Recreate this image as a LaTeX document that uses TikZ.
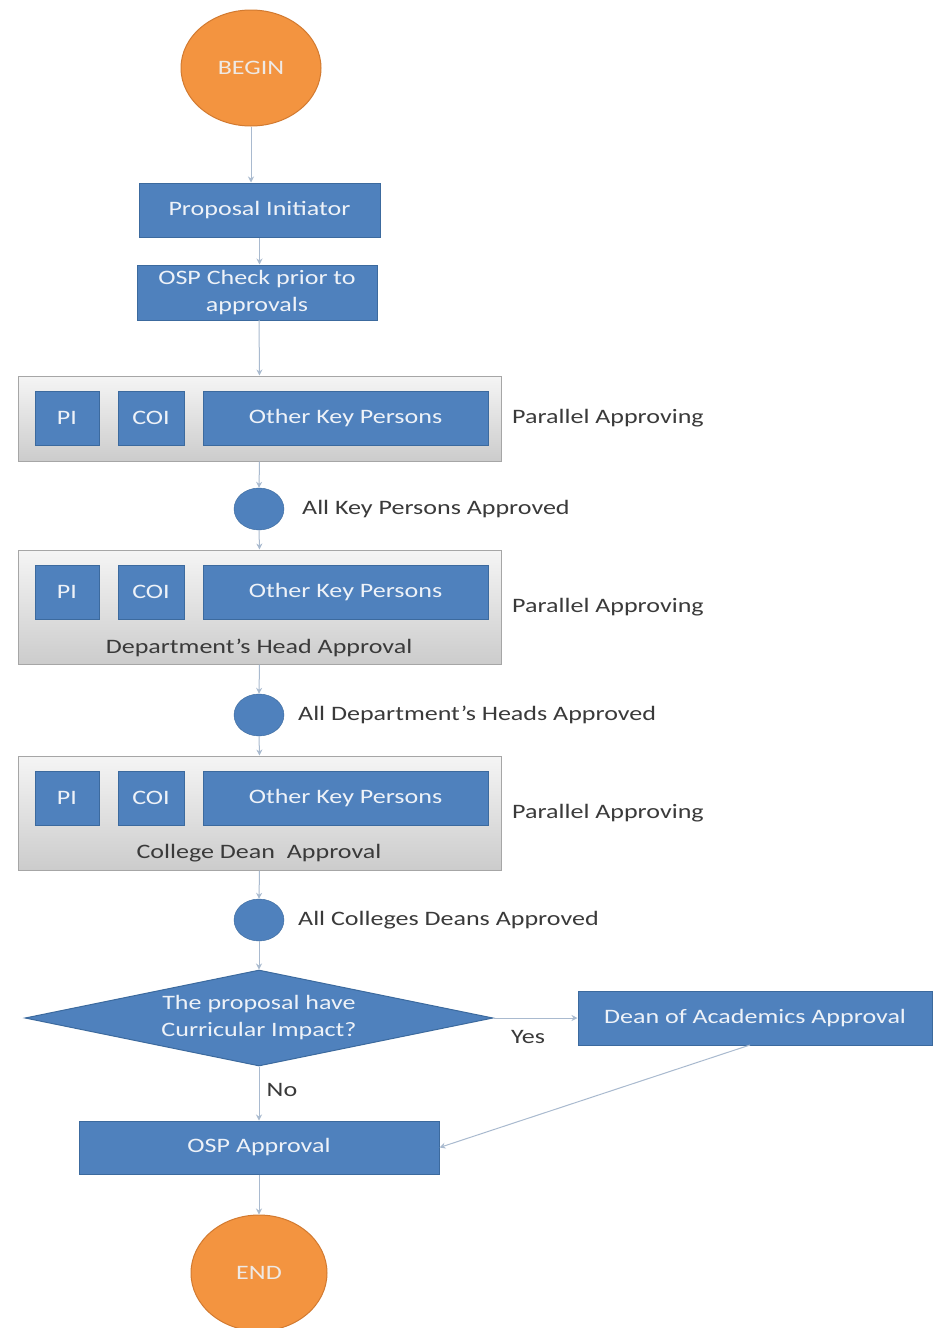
\documentclass[tikz,border=0pt]{standalone}
\usepackage{fontspec}
\setmainfont{Carlito}[FakeStretch=1.27]
\usetikzlibrary{shapes.geometric,arrows.meta}
\definecolor{bfill}{HTML}{4F81BD}
\definecolor{bdraw}{HTML}{3C6A9E}
\definecolor{ofill}{HTML}{F39440}
\definecolor{odraw}{HTML}{D27A30}
\definecolor{conn}{HTML}{A9BACF}
\definecolor{txt}{HTML}{3A3A3A}
\definecolor{wtxt}{HTML}{EEF2F8}
\begin{document}
\begin{tikzpicture}[x=1pt,y=-1pt,
  every node/.style={font=\fontsize{20.5}{22}\selectfont},
  bbox/.style={draw=bdraw,fill=bfill,line width=1pt,text=wtxt,inner sep=0pt,align=center},
  term/.style={ellipse,draw=odraw,fill=ofill,line width=1pt,text=wtxt!90!ofill,inner sep=0pt},
  dot/.style={ellipse,draw=bdraw,fill=bfill,minimum width=50pt,minimum height=42pt,inner sep=0pt},
  grp/.style={draw=gray!70,line width=1pt,top color=gray!8,bottom color=gray!40,inner sep=0pt},
  lbl/.style={text=txt,inner sep=0pt},
  conline/.style={draw=conn,line width=1pt,-{Stealth[length=6pt,width=6pt]}}]
\useasboundingbox (0,0) rectangle (932,1328);
\fill[white] (0,0) rectangle (932,1328);

% terminals
\node[term,minimum width=140pt,minimum height=116pt] (begin) at (251,68) {BEGIN};
\node[term,minimum width=136pt,minimum height=116pt] (end) at (259,1273) {END};

% top boxes
\node[bbox,minimum width=241pt,minimum height=54pt] (init) at (259.5,210) {Proposal Initiator};
\node[bbox,minimum width=240pt,minimum height=55pt,font=\fontsize{20.5}{27}\selectfont] (osp) at (257,292.5) {OSP Check prior to\\approvals};

% group 1
\node[grp,minimum width=483pt,minimum height=85pt] (g1) at (259.5,418.5) {};
\node[bbox,minimum width=64pt,minimum height=54pt] (pi1) at (67,418) {PI};
\node[bbox,minimum width=66pt,minimum height=54pt] (coi1) at (151,418) {COI};
\node[bbox,minimum width=285pt,minimum height=54pt] (okp1) at (345.5,418) {Other Key Persons};
\node[lbl,anchor=west] (pa1) at (512,418) {Parallel Approving};

\node[dot] (c1) at (259,509) {};
\node[lbl,anchor=west] (c1l) at (302,509) {All Key Persons Approved};

% group 2
\node[grp,minimum width=483pt,minimum height=114pt] (g2) at (259.5,607) {};
\node[bbox,minimum width=64pt,minimum height=54pt] (pi2) at (67,592) {PI};
\node[bbox,minimum width=66pt,minimum height=54pt] (coi2) at (151,592) {COI};
\node[bbox,minimum width=285pt,minimum height=54pt] (okp2) at (345.5,592) {Other Key Persons};
\node[lbl] (g2l) at (259,648) {Department's Head Approval};
\node[lbl,anchor=west] (pa2) at (512,607) {Parallel Approving};

\node[dot] (c2) at (259,715) {};
\node[lbl,anchor=west] (c2l) at (298,715) {All Department’s Heads Approved};

% group 3
\node[grp,minimum width=483pt,minimum height=114pt] (g3) at (259.5,813) {};
\node[bbox,minimum width=64pt,minimum height=54pt] (pi3) at (67,798) {PI};
\node[bbox,minimum width=66pt,minimum height=54pt] (coi3) at (151,798) {COI};
\node[bbox,minimum width=285pt,minimum height=54pt] (okp3) at (345.5,798) {Other Key Persons};
\node[lbl] (g3l) at (259,853) {College Dean\ \ Approval};
\node[lbl,anchor=west] (pa3) at (512,813) {Parallel Approving};

\node[dot] (c3) at (259,920) {};
\node[lbl,anchor=west] (c3l) at (298,920) {All Colleges Deans Approved};

% decision
\node[diamond,draw=bdraw,fill=bfill,line width=1pt,text=wtxt,inner sep=0pt,aspect=4.9,
      minimum width=468pt,minimum height=96pt,align=center,font=\fontsize{20.5}{27}\selectfont] (dec) at (259,1018) {The proposal have\\Curricular Impact?};
\node[bbox,minimum width=354pt,minimum height=54pt] (dean) at (755,1018) {Dean of Academics Approval};
\node[lbl] (yes) at (528,1037) {Yes};
\node[lbl] (no) at (282,1090) {No};

\node[bbox,minimum width=360pt,minimum height=53pt] (ospa) at (259,1147.5) {OSP Approval};

\coordinate (deanb) at (750,1045);

% connectors
\draw[conline] (begin.south) -- (begin.south |- init.north);
\draw[conline] (init.south) -- (init.south |- osp.north);
\draw[conline] (259,320) -- (g1.north);
\draw[conline] (g1.south) -- (c1.north);
\draw[conline] (c1.south) -- (g2.north);
\draw[conline] (g2.south) -- (c2.north);
\draw[conline] (c2.south) -- (g3.north);
\draw[conline] (g3.south) -- (c3.north);
\draw[conline] (c3.south) -- (dec.north);
\draw[conline] (dec.east) -- (dean.west);
\draw[conline] (dec.south) -- (ospa.north);
\draw[conline] (deanb) -- (ospa.east);
\draw[conline] (ospa.south) -- (end.north);
\end{tikzpicture}
\end{document}
